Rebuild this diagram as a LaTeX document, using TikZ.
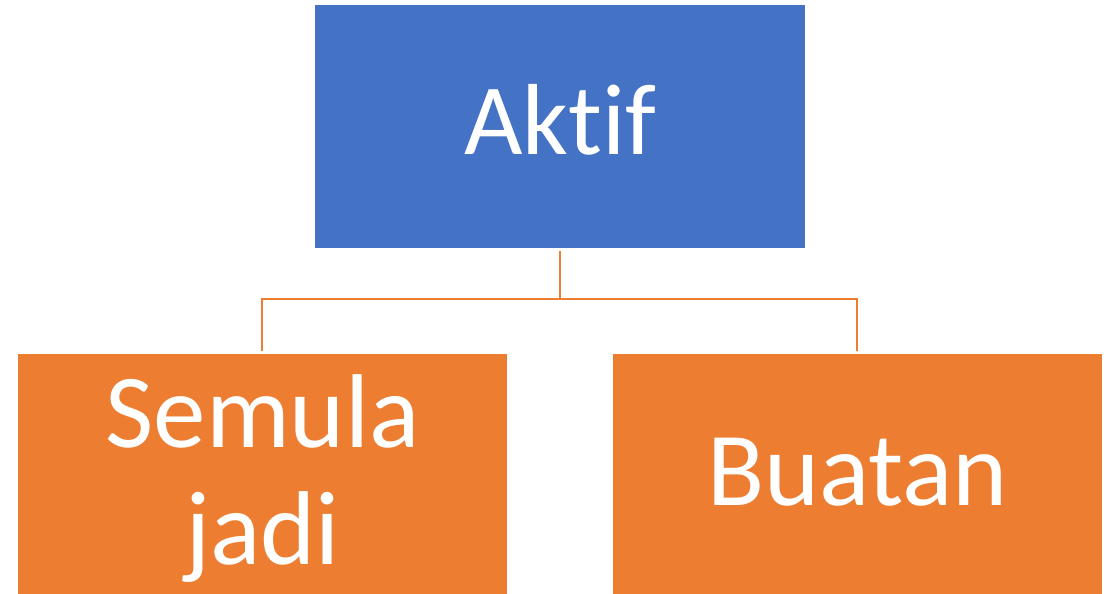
\documentclass[tikz,border=0pt]{standalone}
\usepackage{fontspec}
\setmainfont[Ligatures=NoCommon]{Carlito}
\definecolor{blueA}{HTML}{4472C4}
\definecolor{orangeA}{HTML}{ED7D31}
\begin{document}
\begin{tikzpicture}[x=1pt,y=-1pt,
  box/.style={rectangle, inner sep=0pt, outer sep=0pt, text=white,
    font=\fontsize{101}{117}\selectfont, align=center},
  bigtext/.style={font=\fontsize{105}{117}\selectfont},
  link/.style={draw=orangeA, line width=2pt}]
\useasboundingbox (0,0) rectangle (1109,594);
\node[box, fill=blueA, minimum width=490pt, minimum height=243pt,
  text height=55pt, text depth=0pt] (top) at (560,126.5) {Aktif};
\node[box, bigtext, fill=orangeA, minimum width=489pt, minimum height=240pt] (left) at (262.5,474) {\raisebox{-9pt}[\height][\depth]{\begin{tabular}{@{}c@{}}Semula\\[0pt]jadi\end{tabular}}};
\node[box, bigtext, fill=orangeA, minimum width=489pt, minimum height=240pt,
  text height=62pt, text depth=0pt] (right) at (857.5,474) {Buatan};
\coordinate (hl) at (262,299);
\coordinate (hr) at (857,299);
\draw[link] ([yshift=-3pt]top.south) -- (top.south |- hl);
\draw[link] ([yshift=3pt]left.north -| hl) -- (hl) -- (hr) -- ([yshift=3pt]right.north -| hr);
\end{tikzpicture}
\end{document}
